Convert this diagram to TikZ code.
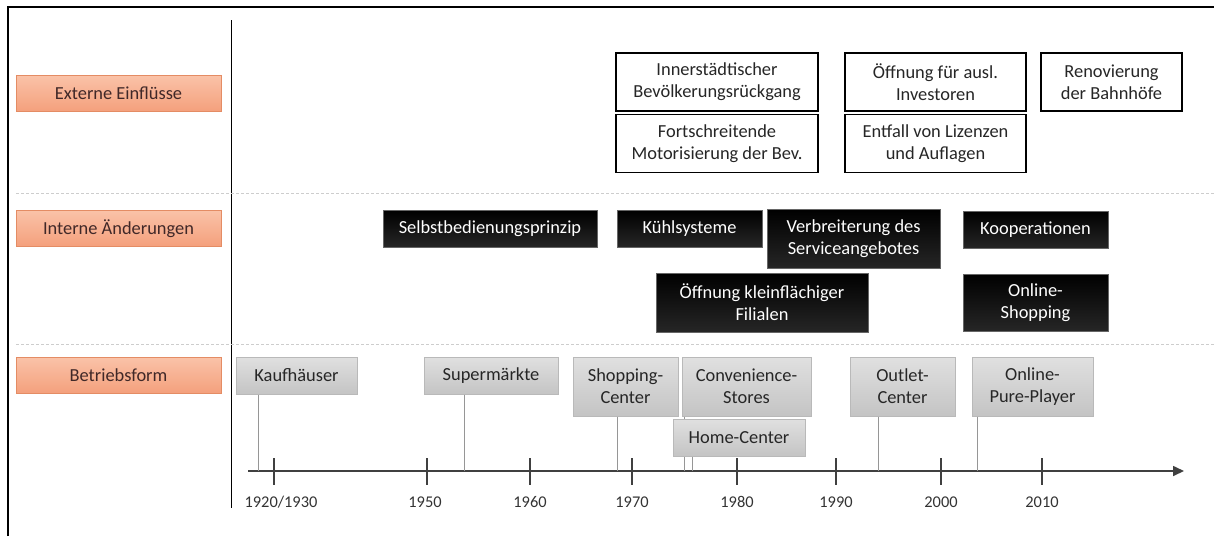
\documentclass[tikz,border=0pt]{standalone}
\usepackage{fontspec}
\setmainfont{Carlito}
\usetikzlibrary{arrows.meta}
\definecolor{labeltop}{RGB}{250,194,168}
\definecolor{labelbot}{RGB}{244,160,124}
\definecolor{labelborder}{RGB}{228,140,100}
\definecolor{labeltext}{RGB}{64,40,40}
\definecolor{formtop}{RGB}{224,224,224}
\definecolor{formbot}{RGB}{196,196,196}
\definecolor{formborder}{RGB}{185,185,185}
\definecolor{formtext}{RGB}{38,38,38}
\definecolor{intbot}{RGB}{38,38,38}
\definecolor{stemgray}{RGB}{150,150,150}
\definecolor{axisgray}{RGB}{64,64,64}
\definecolor{sepgray}{RGB}{205,205,205}

\begin{document}
\begin{tikzpicture}[
    x=0.5pt, y=-0.5pt,
    >=Stealth,
    txt/.style={font=\fontsize{9.2}{11}\selectfont, align=center, inner sep=0pt},
    rowlabel/.style={txt, draw=labelborder, line width=0.5pt,
        top color=labeltop, bottom color=labelbot, text=labeltext,
        minimum width=102.5pt, minimum height=18pt},
    extbox/.style={txt, draw=black, line width=0.8pt, fill=white, text=black!85,
        minimum height=29pt},
    intbox/.style={txt, draw=black!60, line width=0.4pt,
        top color=black, bottom color=intbot, text=white},
    formbox/.style={txt, draw=formborder, line width=0.5pt,
        top color=formtop, bottom color=formbot, text=formtext},
    low/.style={minimum height=18.5pt},
    tall/.style={minimum height=29.5pt},
    stem/.style={stemgray, line width=0.5pt},
    sep/.style={sepgray, line width=0.5pt, dash pattern=on 1.5pt off 1pt},
    yearlbl/.style={font=\fontsize{8.2}{10}\selectfont, text=black!80, inner sep=0pt},
]
\useasboundingbox (0,0) rectangle (1214,536);

% ── Frame and row separators ───────────────────────────────────────────────
\draw[black, line width=1pt] (8,536) -- (8,7) -- (1214,7);
\coordinate (colTop) at (231,20);
\coordinate (colBot) at (231,508);
\draw[black, line width=0.5pt] (colTop) -- (colBot);
\draw[sep] (16,193) -- (1214,193);
\draw[sep] (16,344) -- (1214,344);

% ── Row labels ─────────────────────────────────────────────────────────────
\node[rowlabel] (ext)  at (118.5,93.5)  {Externe Einflüsse};
\node[rowlabel] (int)  at (118.5,228.5) {Interne Änderungen};
\node[rowlabel] (form) at (118.5,375.5) {Betriebsform};

% ── Externe Einflüsse ──────────────────────────────────────────────────────
\node[extbox, minimum width=101pt]  (innen)  at (717,82)      {Innerstädtischer\\Bevölkerungsrückgang};
\node[extbox, minimum width=101pt]  (motor)  at (717,143.5)   {Fortschreitende\\Motorisierung der Bev.};
\node[extbox, minimum width=90.5pt] (invest) at (935.5,82)    {Öffnung für ausl.\\Investoren};
\node[extbox, minimum width=90.5pt] (lizenz) at (935.5,143.5) {Entfall von Lizenzen\\und Auflagen};
\node[extbox, minimum width=70.5pt] (bahn)   at (1111.5,82)   {Renovierung\\der Bahnhöfe};

% ── Interne Änderungen ─────────────────────────────────────────────────────
\node[intbox, low,  minimum width=107pt]  (selbst)  at (490,228.5)    {Selbstbedienungsprinzip};
\node[intbox, low,  minimum width=72.5pt] (kuehl)   at (689.5,228.5)  {Kühlsysteme};
\node[intbox, tall, minimum width=86.5pt] (service) at (853.5,238.5)  {Verbreiterung des\\Serviceangebotes};
\node[intbox, tall, minimum width=106pt]  (filial)  at (762,302.5)    {Öffnung kleinflächiger\\Filialen};
\node[intbox, low,  minimum width=72.5pt] (koop)    at (1035.5,230)   {Kooperationen};
\node[intbox, minimum height=28.5pt, minimum width=72.5pt] (online) at (1035.5,302.5) {Online-\\Shopping};

% ── Timeline ───────────────────────────────────────────────────────────────
\coordinate (axisL) at (248,471);
\coordinate (axisR) at (1184,471);
\draw[axisgray, line width=0.8pt, -{Triangle[length=5.5pt,width=5pt]}] (axisL) -- (axisR);
\foreach \x/\lx/\yr in {274/281/{1920/1930}, 427/425/1950, 530/530/1960, 632/632/1970,
                        737/737/1980, 836/836/1990, 941/941/2000, 1042/1042/2010} {
    \draw[axisgray, line width=0.6pt] (\x,458) -- (\x,485);
    \node[yearlbl] at (\lx,502) {\yr};
}

% stem feet on the axis
\coordinate (fKauf)   at (258,471);
\coordinate (fSuper)  at (464,471);
\coordinate (fShop)   at (617,471);
\coordinate (fConv)   at (684,471);
\coordinate (fHome)   at (692,471);
\coordinate (fOutlet) at (878,471);
\coordinate (fPure)   at (977,471);

% ── Betriebsform ───────────────────────────────────────────────────────────
\node[formbox, low,  minimum width=60.5pt] (kauf)   at (296.5,375.5)  {Kaufhäuser};
\node[formbox, low,  minimum width=67pt]   (super)  at (491,375.5)    {Supermärkte};
\node[formbox, tall, minimum width=52.5pt] (shop)   at (625.5,386.5)  {Shopping-\\Center};
\node[formbox, tall, minimum width=64.5pt] (conv)   at (746.5,386.5)  {Convenience-\\Stores};
\node[formbox, tall, minimum width=52.5pt] (outlet) at (902.5,386.5)  {Outlet-\\Center};
\node[formbox, tall, minimum width=60.5pt] (pure)   at (1032.5,386.5) {Online-\\Pure-Player};

\draw[stem] (fKauf |- kauf.south) -- (fKauf);
\draw[stem] (fSuper |- super.south) -- (fSuper);
\draw[stem] (fShop |- shop.south) -- (fShop);
\draw[stem] (fConv |- conv.south) -- (fConv);
\draw[stem] (fOutlet |- outlet.south) -- (fOutlet);
\draw[stem] (fPure |- pure.south) -- (fPure);

% Home-Center sits over the Convenience stem
\node[formbox, low, minimum width=66pt] (home) at (739,437.5) {Home-Center};
\draw[stem] (fHome |- home.south) -- (fHome);

\end{tikzpicture}
\end{document}
